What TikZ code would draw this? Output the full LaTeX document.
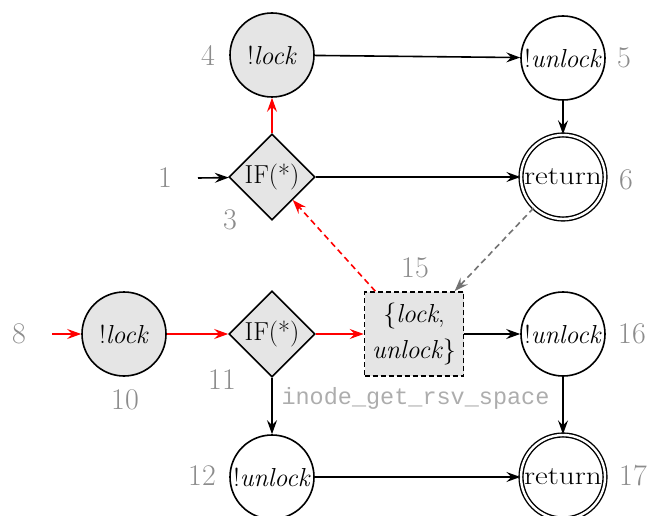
\documentclass[tikz,border=0pt]{standalone}
\usepackage{fontspec}
\setmonofont{Liberation Mono}
\usetikzlibrary{shapes.geometric,arrows.meta}

\begin{document}
\begin{tikzpicture}[x=1pt,y=-1pt,
  every node/.style={font=\fontsize{26}{36}\selectfont},
  state/.style={circle, draw, line width=1.6pt, minimum size=84pt, inner sep=0pt},
  shaded/.style={fill=black!10},
  final/.style={circle, draw, line width=1.4pt, double, double distance=2.4pt,
                minimum size=84pt, inner sep=0pt},
  cond/.style={diamond, draw, fill=black!10, line width=1.6pt, minimum size=86pt, inner sep=0pt},
  summary/.style={rectangle, draw, dashed, dash pattern=on 5pt off 3pt, line width=1.6pt,
                  fill=black!10, minimum width=99pt, minimum height=84pt, align=center, inner sep=0pt},
  idx/.style={text=black!45, font=\fontsize{30}{30}\selectfont},
  tip/.style={-{Stealth[length=14pt,width=10pt,inset=5pt]}},
  flow/.style={tip, line width=1.6pt},
  hot/.style={flow, red},
]
\useasboundingbox (0,0) rectangle (651,516);

% upper path
\node[state, shaded] (n4) at (272,55) {!\textit{lock}};
\node[state] (n5) at (563,58) {!\textit{unlock}};
\node[final] (n6) at (563,177) {\scalebox{1.2}[1]{return}};
\node[cond] (n3) at (272,177) {IF(*)};
\coordinate (s1) at (198,178);

% lower path
\node[state, shaded] (n10) at (124,334) {!\textit{lock}};
\node[cond] (n11) at (272,334) {IF(*)};
\node[summary] (n15) at (414,334) {\{\textit{lock},\\\textit{unlock}\}};
\node[state] (n16) at (563,334) {!\textit{unlock}};
\node[state] (n12) at (272,477) {!\textit{unlock}};
\node[final] (n17) at (563,477) {\scalebox{1.2}[1]{return}};
\coordinate (s8) at (52,334);

% location numbers
\node[idx] (l1) at (165,178) {1};
\node[idx] (l3) at (230,220) {3};
\node[idx] (l4) at (208,55) {4};
\node[idx] (l5) at (624,58) {5};
\node[idx] (l6) at (626,180) {6};
\node[idx] (l8) at (19,334) {8};
\node[idx] (l10) at (125,400) {10};
\node[idx] (l11) at (222,380) {11};
\node[idx] (l12) at (202,476) {12};
\node[idx] (l15) at (415,268) {15};
\node[idx] (l16) at (632,334) {16};
\node[idx] (l17) at (633,476) {17};

% edges
\draw[flow] (s1) -- (n3);
\draw[hot] (n3) -- (n4);
\draw[flow] (n4) -- (n5);
\draw[flow] (n5) -- (n6);
\draw[flow] (n3) -- (n6);

\draw[hot] (s8) -- (n10);
\draw[hot] (n10) -- (n11);
\draw[hot] (n11) -- (n15);
\draw[flow] (n15) -- (n16);
\draw[flow] (n16) -- (n17);
\draw[flow] (n11) -- (n12);
\draw[flow] (n12) -- (n17);

\draw[flow, red, dashed, dash pattern=on 6pt off 4pt] (n15) -- (n3);
\draw[flow, black!55, dashed, dash pattern=on 6pt off 4pt] (n6) -- (n15);

\node[anchor=west, font=\ttfamily\fontsize{23.5}{24}\selectfont, text=black!32] (api)
  at (278,398) {inode\_get\_rsv\_space};
\end{tikzpicture}
\end{document}
